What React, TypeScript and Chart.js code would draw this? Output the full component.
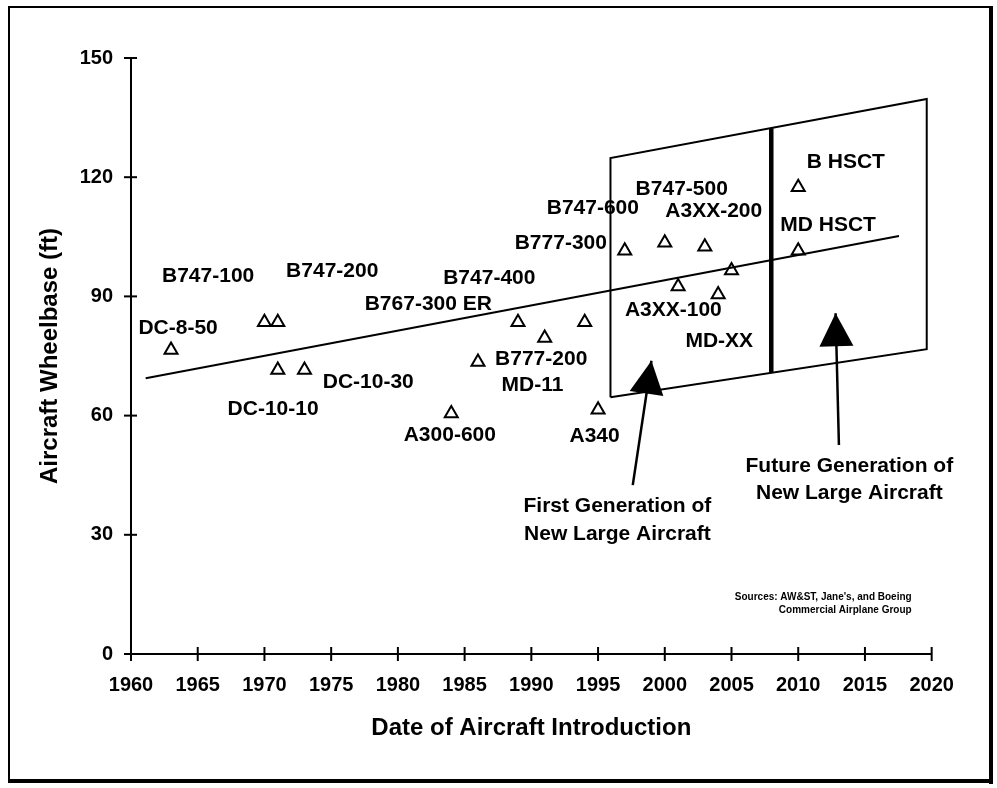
import React, { useEffect, useRef } from 'react';
import { Chart, registerables } from 'chart.js';

Chart.register(...registerables);

// ---------- data ----------
const yearTicks = [1960, 1965, 1970, 1975, 1980, 1985, 1990, 1995, 2000, 2005, 2010, 2015, 2020];
const wheelbaseTicks = [0, 30, 60, 90, 120, 150];

// aircraft: year of introduction / wheelbase (ft)
const aircraftYears = [1963, 1970, 1971, 1971, 1973, 1984, 1986, 1989, 1991, 1994, 1995, 1997, 2000, 2001, 2003, 2004, 2005, 2010, 2010];
const aircraftWheelbase = [76.5, 83.5, 83.5, 71.5, 71.5, 60.5, 73.5, 83.5, 79.5, 83.5, 61.5, 101.5, 103.5, 92.5, 102.5, 90.5, 96.5, 117.5, 101.5];

// trend line
const trendYears = [1961.1, 2017.55];
const trendWheelbase = [69.4, 105.2];

// region outline (closed)
const regionYears = [1995.93, 1995.93, 2019.63, 2019.63, 1995.93];
const regionWheelbase = [64.6, 124.8, 139.7, 76.7, 64.6];

// divider between generations
const dividerYears = [2007.98, 2007.98];
const dividerWheelbase = [70.8, 132.3];

// arrows: tail -> tip
const arrowTailYears = [1997.6, 2013.05];
const arrowTailWheelbase = [42.5, 52.6];
const arrowTipYears = [1999.0, 2012.8];
const arrowTipWheelbase = [73.8, 85.75];

// aircraft name labels (centre, data coordinates)
const labelNames = ['DC-8-50', 'B747-100', 'B747-200', 'B767-300 ER', 'B747-400', 'DC-10-30', 'DC-10-10', 'A300-600', 'B777-200', 'MD-11', 'A340', 'B777-300', 'B747-600', 'B747-500', 'A3XX-200', 'A3XX-100', 'MD-XX', 'B HSCT', 'MD HSCT'];
const labelYears = [1963.53, 1965.78, 1975.08, 1982.28, 1986.85, 1977.78, 1970.65, 1983.89, 1990.74, 1990.09, 1994.74, 1992.21, 1994.61, 2001.27, 2003.67, 2000.64, 2004.08, 2013.57, 2012.24];
const labelWheelbase = [82.05, 95.1, 96.4, 88.1, 94.6, 68.5, 61.7, 55.1, 74.25, 67.7, 54.9, 103.3, 112.1, 117.1, 111.5, 86.5, 78.6, 123.7, 107.9];

// arrow captions
const captionLines = [
  ['First Generation of', 'New Large Aircraft'],
  ['Future Generation of', 'New Large Aircraft'],
];
const captionYears = [1996.45, 2013.83];
const captionWheelbase = [[37.1, 30.2], [47.3, 40.4]];

const sourceLines = ["Sources: AW&ST, Jane's, and Boeing", 'Commercial Airplane Group'];
const sourceYear = 2018.5;
const sourceWheelbase = [14.3, 10.9];

const xTitle = 'Date of Aircraft Introduction';
const yTitle = 'Aircraft Wheelbase (ft)';

// ---------- styles ----------
const FONT = '"Liberation Sans", Arial, Helvetica, sans-serif';
const W = 997;
const H = 788;

const toXY = (xs: number[], ys: number[]) => xs.map((x, i) => ({ x, y: ys[i] }));

const decorPlugin = {
  id: 'decor',
  beforeDraw(chart: any) {
    const ctx = chart.ctx;
    ctx.save();
    ctx.fillStyle = '#ffffff';
    ctx.fillRect(0, 0, chart.width, chart.height);
    ctx.restore();
  },
  afterDatasetsDraw(chart: any) {
    const ctx = chart.ctx;
    const xs = chart.scales.x;
    const ys = chart.scales.y;
    const area = chart.chartArea;
    ctx.save();
    ctx.strokeStyle = '#000';
    ctx.fillStyle = '#000';
    ctx.lineWidth = 2;
    // crossing tick marks
    wheelbaseTicks.forEach((v) => {
      const py = ys.getPixelForValue(v);
      ctx.beginPath();
      ctx.moveTo(area.left - 7, py);
      ctx.lineTo(area.left + 6, py);
      ctx.stroke();
    });
    yearTicks.forEach((v) => {
      const px = xs.getPixelForValue(v);
      ctx.beginPath();
      ctx.moveTo(px, area.bottom - 7);
      ctx.lineTo(px, area.bottom + 7);
      ctx.stroke();
    });

    // arrow heads
    arrowTipYears.forEach((_, i) => {
      const tx = xs.getPixelForValue(arrowTailYears[i]);
      const ty = ys.getPixelForValue(arrowTailWheelbase[i]);
      const hx = xs.getPixelForValue(arrowTipYears[i]);
      const hy = ys.getPixelForValue(arrowTipWheelbase[i]);
      const len = Math.hypot(hx - tx, hy - ty);
      const dx = (hx - tx) / len;
      const dy = (hy - ty) / len;
      const headLen = 33;
      const halfW = 17;
      const bx = hx - dx * headLen;
      const by = hy - dy * headLen;
      ctx.beginPath();
      ctx.moveTo(hx, hy);
      ctx.lineTo(bx - dy * halfW, by + dx * halfW);
      ctx.lineTo(bx + dy * halfW, by - dx * halfW);
      ctx.closePath();
      ctx.fill();
    });

    // aircraft labels
    ctx.font = `bold 21px ${FONT}`;
    ctx.textAlign = 'center';
    ctx.textBaseline = 'middle';
    labelNames.forEach((name, i) => {
      ctx.fillText(name, xs.getPixelForValue(labelYears[i]), ys.getPixelForValue(labelWheelbase[i]));
    });

    // captions
    captionLines.forEach((lines, i) => {
      lines.forEach((t, j) => {
        ctx.fillText(t, xs.getPixelForValue(captionYears[i]), ys.getPixelForValue(captionWheelbase[i][j]));
      });
    });

    // sources
    ctx.font = `bold 10px ${FONT}`;
    ctx.textAlign = 'right';
    sourceLines.forEach((t, j) => {
      ctx.fillText(t, xs.getPixelForValue(sourceYear), ys.getPixelForValue(sourceWheelbase[j]));
    });
    ctx.restore();
  },
  afterDraw(chart: any) {
    const ctx = chart.ctx;
    const area = chart.chartArea;
    ctx.save();
    ctx.fillStyle = '#000';
    ctx.font = `bold 24px ${FONT}`;
    ctx.textAlign = 'center';
    ctx.textBaseline = 'middle';
    ctx.fillText(xTitle, (area.left + area.right) / 2, 728);
    ctx.translate(50, (area.top + area.bottom) / 2);
    ctx.rotate(-Math.PI / 2);
    ctx.fillText(yTitle, 0, 0);
    ctx.restore();

    // frame with heavier right/bottom edge
    ctx.save();
    ctx.strokeStyle = '#000';
    ctx.fillStyle = '#000';
    ctx.lineWidth = 2;
    ctx.strokeRect(9, 7, 981, 774);
    ctx.fillRect(989, 6, 4, 778);
    ctx.fillRect(8, 779, 985, 4);
    ctx.restore();
  },
};

export default function App() {
  const canvasRef = useRef<HTMLCanvasElement | null>(null);

  useEffect(() => {
    if (!canvasRef.current) return;
    const lineDs = (data: any[], width: number) => ({
      type: 'scatter' as const,
      data,
      showLine: true,
      borderColor: '#000',
      borderWidth: width,
      pointRadius: 0,
      pointHoverRadius: 0,
      fill: false,
      tension: 0,
    });
    const chart = new Chart(canvasRef.current, {
      type: 'scatter',
      data: {
        datasets: [
          {
            label: 'Aircraft',
            data: toXY(aircraftYears, aircraftWheelbase),
            pointStyle: 'triangle',
            pointRadius: 7.5,
            pointHoverRadius: 7.5,
            borderColor: '#000',
            backgroundColor: 'rgba(255,255,255,0)',
            borderWidth: 2,
            showLine: false,
          },
          lineDs(toXY(trendYears, trendWheelbase), 2),
          lineDs(toXY(regionYears, regionWheelbase), 2),
          lineDs(toXY(dividerYears, dividerWheelbase), 4.5),
          lineDs(toXY([arrowTailYears[0], arrowTipYears[0]], [arrowTailWheelbase[0], arrowTipWheelbase[0]]), 2.5),
          lineDs(toXY([arrowTailYears[1], arrowTipYears[1]], [arrowTailWheelbase[1], arrowTipWheelbase[1]]), 2.5),
        ] as any,
      },
      options: {
        animation: false,
        responsive: false,
        devicePixelRatio: 1,
        events: [],
        layout: { padding: { left: 0, top: 58, right: W - 931.67, bottom: 0 } },
        plugins: {
          legend: { display: false },
          tooltip: { enabled: false },
          title: { display: false },
        },
        scales: {
          x: {
            type: 'linear',
            min: 1960,
            max: 2020,
            afterBuildTicks: (s: any) => {
              s.ticks = yearTicks.map((v) => ({ value: v }));
            },
            afterFit: (s: any) => {
              s.height = H - 654;
            },
            grid: { display: false, drawTicks: false, tickLength: 0 },
            border: { display: true, color: '#000', width: 2 },
            ticks: {
              color: '#000',
              padding: 19,
              maxRotation: 0,
              autoSkip: false,
              font: { family: FONT, size: 20, weight: 'bold' },
              callback: (v: any) => String(v),
            },
          },
          y: {
            type: 'linear',
            min: 0,
            max: 150,
            afterBuildTicks: (s: any) => {
              s.ticks = wheelbaseTicks.map((v) => ({ value: v }));
            },
            afterFit: (s: any) => {
              s.width = 131;
            },
            grid: { display: false, drawTicks: false, tickLength: 0 },
            border: { display: true, color: '#000', width: 2 },
            ticks: {
              color: '#000',
              padding: 18,
              autoSkip: false,
              font: { family: FONT, size: 20, weight: 'bold' },
              callback: (v: any) => String(v),
            },
          },
        },
      } as any,
      plugins: [decorPlugin],
    });
    return () => chart.destroy();
  }, []);

  return (
    <div style={{ position: 'absolute', left: 0, top: 0, width: W, height: H, background: '#fff' }}>
      <canvas ref={canvasRef} width={W} height={H} style={{ display: 'block', width: W, height: H }} />
    </div>
  );
}
